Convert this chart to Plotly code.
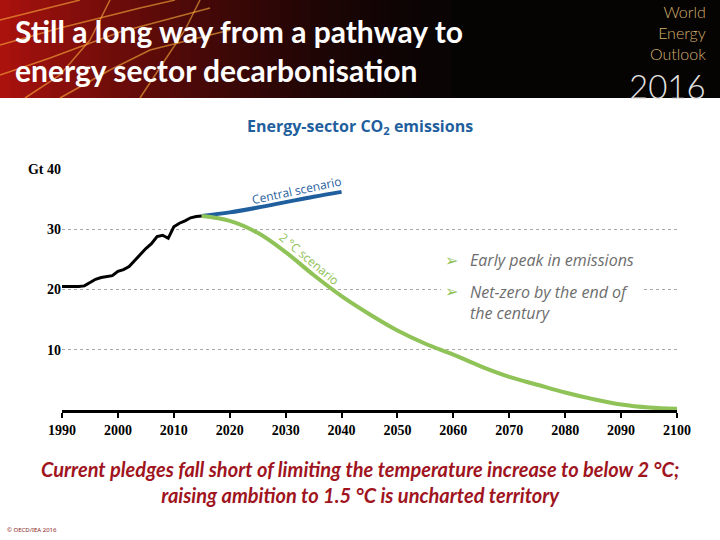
import plotly.graph_objects as go

# ---------------- data ----------------
hist_years = list(range(1990, 2016))
hist_vals = [20.5, 20.5, 20.4, 20.5, 20.6, 21.1, 21.7, 22.0, 22.1, 22.3,
             23.0, 23.3, 23.8, 24.8, 25.9, 26.8, 27.6, 28.8, 29.0, 28.5,
             30.4, 31.0, 31.4, 31.9, 32.1, 32.2]

central_years = [2015, 2020, 2025, 2030, 2035, 2040]
central_vals = [32.2, 32.8, 33.6, 34.5, 35.4, 36.2]

two_deg_years = list(range(2015, 2101, 5))
two_deg_vals = [32.2, 31.4, 29.4, 26.2, 22.4, 18.9, 15.9, 13.2, 11.0, 9.2,
                7.2, 5.5, 4.2, 2.9, 1.8, 0.9, 0.4, 0.2]

x_ticks = list(range(1990, 2101, 10))
y_ticks = [10, 20, 30, 40]
y_tick_labels = ["10", "20", "30", "Gt 40"]

# ---------------- layout helpers ----------------
W, H = 720, 540
L, R, T, B = 62, 43, 169, 130
PW, PH = W - L - R, H - T - B


def px(x):
    return (x - L) / PW


def py(y):
    return (H - B - y) / PH


BLUE = "#1f5f9e"
GREEN = "#8fc257"
GOLD = "#d2b06e"

fig = go.Figure()
fig.add_trace(go.Scatter(x=hist_years, y=hist_vals, mode="lines",
                         line=dict(color="black", width=3), hoverinfo="skip"))
fig.add_trace(go.Scatter(x=central_years, y=central_vals, mode="lines",
                         line=dict(color=BLUE, width=4, shape="spline"), hoverinfo="skip"))
fig.add_trace(go.Scatter(x=two_deg_years, y=two_deg_vals, mode="lines",
                         line=dict(color=GREEN, width=4, shape="spline"), hoverinfo="skip"))

HB = 98  # header bottom (px)
shapes = [dict(type="rect", xref="paper", yref="paper",
               x0=px(0), x1=px(720), y0=py(HB), y1=py(0),
               fillcolor="#060303", line=dict(width=0), layer="below")]
# header gradient (red -> black)
N = 45
for i in range(N):
    t = i / (N - 1)
    f = (1 - t) ** 1.6
    r = int(10 + 160 * f)
    g = int(4 + 14 * f)
    b = int(4 + 10 * f)
    x0 = i * 450 / N
    x1 = (i + 1) * 450 / N + 1
    shapes.append(dict(type="rect", xref="paper", yref="paper",
                       x0=px(x0), x1=px(x1), y0=py(HB), y1=py(0),
                       fillcolor=f"rgb({r},{g},{b})", line=dict(width=0), layer="below"))
# light streaks
streaks = [
    [(0, 45), (60, 28), (140, 8), (175, 0)],
    [(0, 75), (50, 58), (120, 32), (210, 8)],
    [(25, 98), (60, 75), (90, 40), (110, 0)],
    [(140, 98), (165, 60), (185, 30), (200, 0)],
    [(0, 20), (40, 10), (80, 0)],
    [(60, 98), (110, 70), (150, 50), (230, 30)],
]
for s in streaks:
    path = "M " + " L ".join(f"{px(x):.4f},{py(y):.4f}" for x, y in s)
    shapes.append(dict(type="path", xref="paper", yref="paper", path=path,
                       line=dict(color="rgba(255,175,60,0.6)", width=1.5), layer="below"))
# white patch interrupting the 20 gridline behind the second bullet
shapes.append(dict(type="rect", xref="paper", yref="paper",
                   x0=px(441), x1=px(641), y0=py(296), y1=py(282),
                   fillcolor="white", line=dict(width=0), layer="above"))

annotations = [
    dict(text="<b>Still a long way from a pathway to<br>energy sector decarbonisation</b>",
         x=px(13), y=py(51), xref="paper", yref="paper", xanchor="left", yanchor="middle",
         align="left", showarrow=False,
         font=dict(family="Lato", size=30, color="white")),
    dict(text="World<br>Energy<br>Outlook", x=px(707), y=py(1), xref="paper", yref="paper",
         xanchor="right", yanchor="top", align="right", showarrow=False, borderpad=0,
         font=dict(family="Lato", size=16, color=GOLD, weight=300)),
    dict(text="2016", x=px(707), y=py(86), xref="paper", yref="paper",
         xanchor="right", yanchor="middle", showarrow=False, borderpad=0,
         font=dict(family="Lato", size=33, color="#e2e2e2", weight=300)),
    dict(text="<b>Energy-sector CO<sub>2</sub> emissions</b>",
         x=px(360), y=py(126), xref="paper", yref="paper", xanchor="center", yanchor="middle",
         showarrow=False, font=dict(family="Open Sans", size=16, color=BLUE)),
    dict(text="Central scenario", x=px(296), y=py(190), xref="paper", yref="paper",
         xanchor="center", yanchor="middle", showarrow=False, textangle=-12,
         font=dict(family="Open Sans", size=12, color=BLUE)),
    dict(text="2 °C scenario", x=px(309), y=py(258), xref="paper", yref="paper",
         xanchor="center", yanchor="middle", showarrow=False, textangle=40,
         font=dict(family="Open Sans", size=12, color=GREEN)),
    dict(text="➢", x=px(451), y=py(260), xref="paper", yref="paper",
         xanchor="center", yanchor="middle", showarrow=False,
         font=dict(family="DejaVu Sans", size=16, color=GREEN)),
    dict(text="<i>Early peak in emissions</i>", x=px(468), y=py(260), xref="paper", yref="paper",
         xanchor="left", yanchor="middle", showarrow=False,
         font=dict(family="Open Sans", size=16, color="#6d6d6d")),
    dict(text="➢", x=px(451), y=py(291), xref="paper", yref="paper",
         xanchor="center", yanchor="middle", showarrow=False,
         font=dict(family="DejaVu Sans", size=16, color=GREEN)),
    dict(text="<i>Net-zero by the end of<br>the century</i>", x=px(468), y=py(302),
         xref="paper", yref="paper", xanchor="left", yanchor="middle", align="left",
         showarrow=False,
         font=dict(family="Open Sans", size=16, color="#6d6d6d")),
    dict(text="<b><i>Current pledges fall short of limiting the temperature increase to below 2 °C;<br>"
              "raising ambition to 1.5 °C is uncharted territory</i></b>",
         x=px(360), y=py(482), xref="paper", yref="paper", xanchor="center", yanchor="middle",
         align="center", showarrow=False,
         font=dict(family="Lato", size=20, color="#a0141e")),
    dict(text="© OECD/IEA 2016", x=px(5), y=py(530), xref="paper", yref="paper",
         xanchor="left", yanchor="middle", showarrow=False,
         font=dict(family="Noto Sans", size=6, color="#8b1a1a")),
]

fig.update_layout(
    width=W, height=H,
    margin=dict(l=L, r=R, t=T, b=B),
    paper_bgcolor="white", plot_bgcolor="white",
    showlegend=False,
    shapes=shapes,
    annotations=annotations,
    xaxis=dict(range=[1990, 2100], tickvals=x_ticks, showgrid=False, zeroline=False,
               showline=True, linecolor="black", linewidth=2.5,
               ticks="outside", ticklen=5, tickwidth=2, tickcolor="black",
               tickfont=dict(family="Liberation Serif", size=14, color="black", weight="bold")),
    yaxis=dict(range=[0, 40], tickvals=y_ticks, ticktext=y_tick_labels,
               showgrid=True, gridcolor="#a8a8a8", griddash="dot", gridwidth=1,
               zeroline=False, showline=False, ticks="",
               tickfont=dict(family="Liberation Serif", size=14, color="black", weight="bold")),
)

fig.write_html("out.html", config={"displayModeBar": False},
               post_script="document.body.style.margin='0px';document.body.style.overflow='hidden';")
